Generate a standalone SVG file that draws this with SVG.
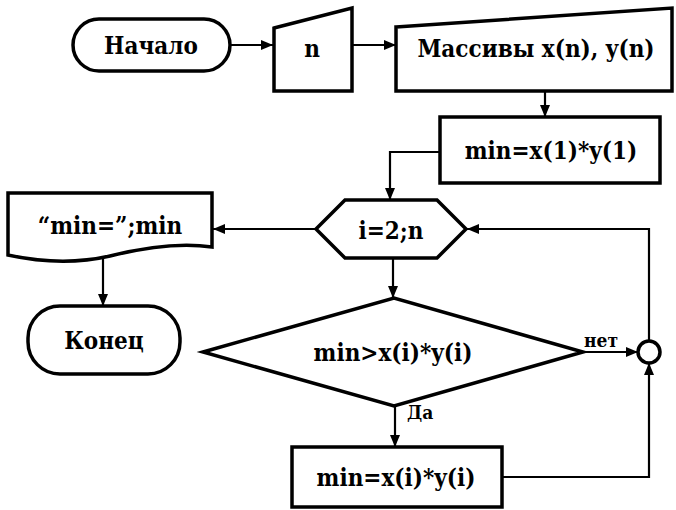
<svg xmlns="http://www.w3.org/2000/svg" width="676" height="510" viewBox="0 0 676 510">
<defs>
<marker id="arr" markerWidth="12" markerHeight="10" refX="12" refY="5" orient="auto" markerUnits="userSpaceOnUse">
<path d="M0,0 L12,5 L0,10 Z" fill="#000"/>
</marker>
<style>
.shape{fill:#fff;stroke:#000;stroke-width:3.5;stroke-linejoin:miter}
.conn{fill:none;stroke:#000;stroke-width:2.2}
text{font-family:'DejaVu Serif',serif;font-stretch:condensed;font-weight:bold;fill:#000}
.t{font-size:24px;text-anchor:middle}
.s{font-size:19px}
</style>
</defs>
<rect width="676" height="510" fill="#fff"/>
<g id="connectors">
<line class="conn" x1="230" y1="45" x2="273" y2="45" marker-end="url(#arr)"/>
<line class="conn" x1="352" y1="45" x2="396" y2="45" marker-end="url(#arr)"/>
<line class="conn" x1="545" y1="91" x2="545" y2="117" marker-end="url(#arr)"/>
<polyline class="conn" points="440,152 390,152 390,200" marker-end="url(#arr)"/>
<line class="conn" x1="316" y1="229" x2="213" y2="229" marker-end="url(#arr)"/>
<line class="conn" x1="103" y1="258" x2="103" y2="306" marker-end="url(#arr)"/>
<line class="conn" x1="393" y1="258" x2="393" y2="298" marker-end="url(#arr)"/>
<line class="conn" x1="583" y1="352" x2="638" y2="352" marker-end="url(#arr)"/>
<polyline class="conn" points="649,341 649,229 467,229" marker-end="url(#arr)"/>
<line class="conn" x1="395" y1="406" x2="395" y2="447" marker-end="url(#arr)"/>
<polyline class="conn" points="502,477 649,477 649,363" marker-end="url(#arr)"/>
<text class="s" x="584" y="347">нет</text>
<text class="s" x="407" y="419">Да</text>
</g>
<g id="start">
<rect class="shape" x="73" y="19" width="157" height="52" rx="26" ry="26"/>
<text class="t" x="151" y="54">Начало</text>
</g>
<g id="input-n">
<polygon class="shape" points="274,28 352,8 352,91 274,91"/>
<text class="t" x="312" y="57">n</text>
</g>
<g id="arrays">
<polygon class="shape" points="396,27 672,8 672,91 396,91"/>
<text class="t" x="536" y="57">Массивы x(n), y(n)</text>
</g>
<g id="init">
<rect class="shape" x="440" y="117" width="220" height="66"/>
<text class="t" x="551" y="159">min=x(1)*y(1)</text>
</g>
<g id="loop">
<polygon class="shape" points="316,229 345,200 437,200 466,229 437,258 345,258"/>
<text class="t" x="391" y="239">i=2;n</text>
</g>
<g id="output">
<path class="shape" d="M8,193 H212 V247 C185,243 150,246 110,256 C75,264 40,262 8,255 Z"/>
<text class="t" x="110" y="234">“min=”;min</text>
</g>
<g id="end">
<rect class="shape" x="28" y="306" width="152" height="68" rx="32" ry="32"/>
<text class="t" x="104" y="349">Конец</text>
</g>
<g id="cond">
<polygon class="shape" points="203,352 394,298 583,352 394,406"/>
<text class="t" x="393" y="361">min&gt;x(i)*y(i)</text>
</g>
<g id="join">
<circle class="shape" cx="649" cy="352" r="11"/>
</g>
<g id="update">
<rect class="shape" x="292" y="447" width="210" height="60"/>
<text class="t" x="396" y="486">min=x(i)*y(i)</text>
</g>
</svg>
